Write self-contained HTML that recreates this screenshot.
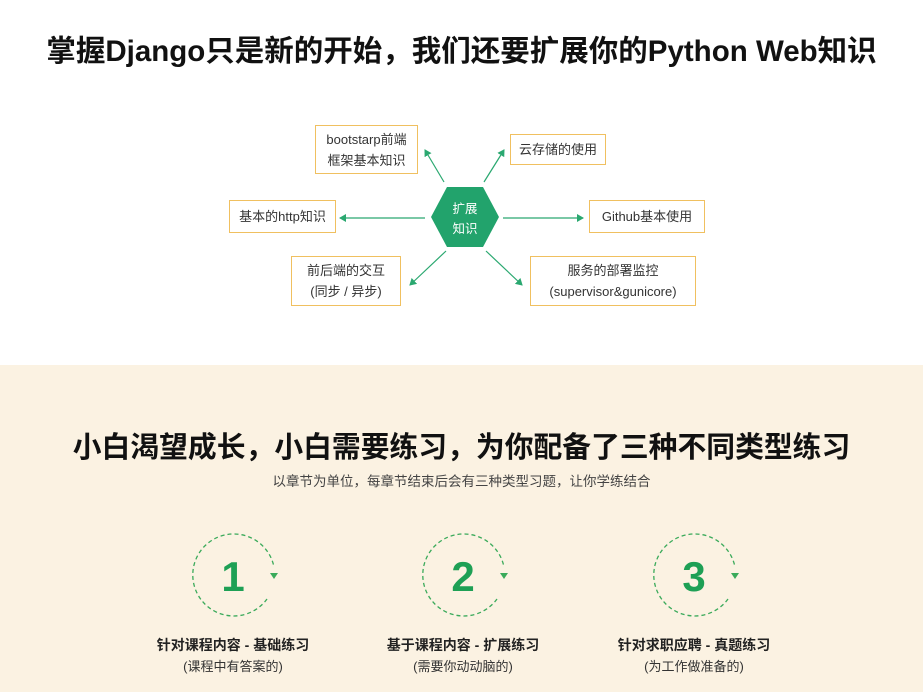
<!DOCTYPE html>
<html><head><meta charset="utf-8"><style>
body{margin:0;width:923px;height:692px;position:relative;background:#fff;font-family:"Liberation Sans","Noto Sans CJK SC",sans-serif;overflow:hidden;color:#222}
.bg{position:absolute;left:0;top:365px;width:923px;height:327px;background:#fbf2e2}
.t{position:absolute;left:0;width:923px;text-align:center;white-space:nowrap}
.box{position:absolute;border:1px solid #f0c060;background:#fff;font-size:13px;color:#333;display:flex;align-items:center;justify-content:center;text-align:center;line-height:21px;box-sizing:border-box}
.l1{position:absolute;width:240px;text-align:center;font-size:14px;font-weight:bold;top:635px}
.l2{position:absolute;width:240px;text-align:center;font-size:13px;color:#333;top:656px}
</style></head><body>
<div class="bg"></div>
<div class="t" style="top:28px;font-size:29.5px;font-weight:bold;color:#111">掌握Django只是新的开始，我们还要扩展你的Python Web知识</div>
<svg style="position:absolute;left:0;top:0" width="923" height="365">
<defs><marker id="a" markerWidth="8" markerHeight="8" refX="6" refY="4" orient="auto" markerUnits="userSpaceOnUse"><path d="M0,0 L7,4 L0,8 Z" fill="#2aa870"/></marker></defs>
<g stroke="#2aa870" stroke-width="1.2" marker-end="url(#a)">
<line x1="425" y1="218" x2="340" y2="218"/>
<line x1="503" y1="218" x2="583" y2="218"/>
<line x1="444" y1="182" x2="425" y2="150"/>
<line x1="484" y1="182" x2="504" y2="150"/>
<line x1="446" y1="251" x2="410" y2="285"/>
<line x1="486" y1="251" x2="522" y2="285"/>
</g>
<polygon points="447,187 483,187 499,217 483,247 447,247 431,217" fill="#22a36c"/>
<text x="465" y="213" fill="#fff" font-size="12.5" text-anchor="middle" font-family="Liberation Sans,Noto Sans CJK SC,sans-serif">扩展</text>
<text x="465" y="233" fill="#fff" font-size="12.5" text-anchor="middle" font-family="Liberation Sans,Noto Sans CJK SC,sans-serif">知识</text>
</svg>
<div class="box" style="left:315px;top:125px;width:103px;height:49px">bootstarp前端<br>框架基本知识</div>
<div class="box" style="left:510px;top:134px;width:96px;height:31px">云存储的使用</div>
<div class="box" style="left:229px;top:200px;width:107px;height:33px">基本的http知识</div>
<div class="box" style="left:589px;top:200px;width:116px;height:33px">Github基本使用</div>
<div class="box" style="left:291px;top:256px;width:110px;height:50px">前后端的交互<br>(同步 / 异步)</div>
<div class="box" style="left:530px;top:256px;width:166px;height:50px">服务的部署监控<br>(supervisor&amp;gunicore)</div>
<div class="t" style="top:425px;font-size:28.8px;font-weight:bold;color:#111">小白渴望成长，小白需要练习，为你配备了三种不同类型练习</div>
<div class="t" style="top:470px;font-size:13.5px;color:#444">以章节为单位，每章节结束后会有三种类型习题，让你学练结合</div>
<svg style="position:absolute;left:0;top:520px" width="923" height="110">
<g fill="none" stroke="#3aaa5a" stroke-width="1.3" stroke-dasharray="4,3">
<path d="M267,79 A41,41 0 1 1 274,47"/>
<path d="M497,79 A41,41 0 1 1 504,47"/>
<path d="M728,79 A41,41 0 1 1 735,47"/>
</g>
<g fill="#3aaa5a">
<path d="M270,53 L278,53 L274,59Z"/><path d="M500,53 L508,53 L504,59Z"/><path d="M731,53 L739,53 L735,59Z"/>
</g>
<g font-size="42" font-weight="bold" fill="#1ea055" text-anchor="middle" font-family="Liberation Sans,sans-serif">
<text x="233" y="71">1</text><text x="463" y="71">2</text><text x="694" y="71">3</text>
</g>
</svg>
<div class="l1" style="left:113px">针对课程内容 - 基础练习</div>
<div class="l2" style="left:113px">(课程中有答案的)</div>
<div class="l1" style="left:343px">基于课程内容 - 扩展练习</div>
<div class="l2" style="left:343px">(需要你动动脑的)</div>
<div class="l1" style="left:574px">针对求职应聘 - 真题练习</div>
<div class="l2" style="left:574px">(为工作做准备的)</div>
</body></html>
